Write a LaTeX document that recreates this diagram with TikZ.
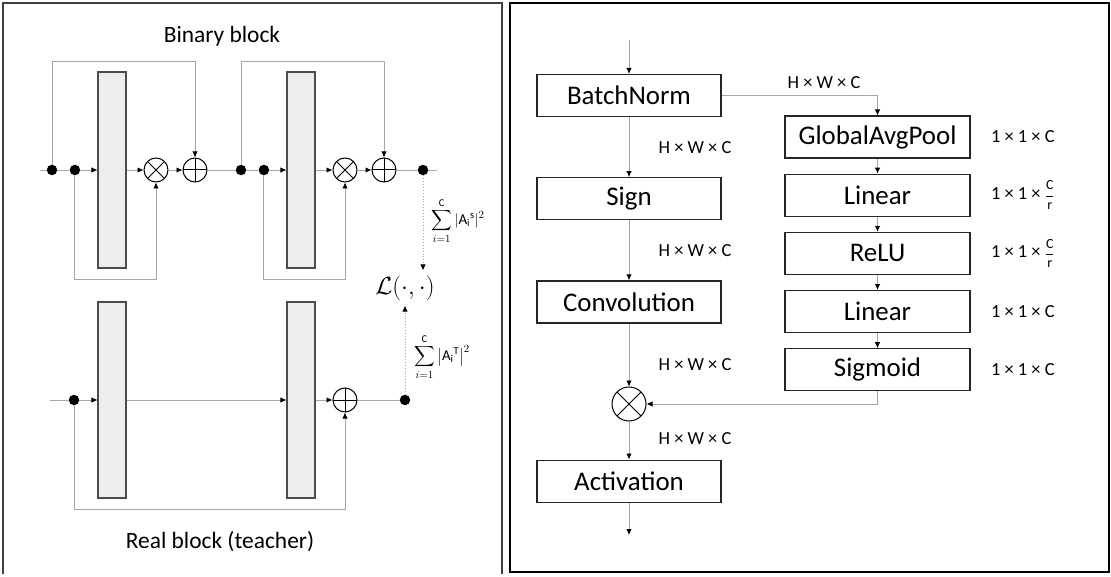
\documentclass[tikz,border=0pt]{standalone}
\usepackage{amsmath}
\usepackage{fontspec}
\setmainfont{Carlito}
\usepackage{tikz}
\usetikzlibrary{calc, positioning, arrows.meta}

\newcommand{\chanfrac}{{\fontsize{14}{14}\selectfont$\dfrac{\text{C}}{\text{r}}$}}

\tikzset{
  conn/.style={draw=gray!70, line width=0.9bp},
  arr/.style={-{Latex[length=6bp,width=5.5bp,black]}},
  dot/.style={circle, fill=black, inner sep=0pt, minimum size=10.5bp},
  layer/.style={draw=black!70, line width=1.1bp, fill=black!7, inner sep=0pt, minimum width=28bp, minimum height=196bp},
  mulop/.style={circle, draw, line width=1bp, inner sep=0pt, minimum size=24bp,
    path picture={\draw (path picture bounding box.north west) -- (path picture bounding box.south east)
      (path picture bounding box.north east) -- (path picture bounding box.south west);}},
  addop/.style={circle, draw, line width=1bp, inner sep=0pt, minimum size=24bp,
    path picture={\draw (path picture bounding box.north) -- (path picture bounding box.south)
      (path picture bounding box.east) -- (path picture bounding box.west);}},
  box/.style={draw=black!85, line width=1.2bp, minimum width=184bp, minimum height=42bp, inner sep=0pt, font=\fontsize{27}{32}\selectfont},
  dimlab/.style={font=\fontsize{18.5}{22}\selectfont},
  sumlab/.style={font=\fontsize{15}{18}\selectfont, inner sep=1bp},
  title/.style={font=\fontsize{23.5}{28}\selectfont}
}

\begin{document}
\begin{tikzpicture}[x=1bp, y=-1bp, node distance=15bp]
    \useasboundingbox (0,0) rectangle (1111,577);
    % panel frames
    \draw[black!75, line width=1.1bp] (3,574) -- (3,3) -- (502,3) -- (502,574);
    \draw[black, line width=1.1bp] (510,3) rectangle (1109,572);

    % Binary block (student)
    \node[title] (btitle) at (222,36) {Binary block};
    \coordinate (bin) at (40,170);
    \coordinate (btop) at (0,61);
    \coordinate (bbot) at (0,279);
    \node[dot] (b1s) at (52,170) {};
    \node[dot, right=12bp of b1s] (b1a) {};
    \node[layer] (b1l) at (112,170) {};
    \node[mulop] (b1m) at (156,170) {};
    \node[addop] (b1p) at (195,170) {};
    \node[dot] (b2s) at (241,170) {};
    \node[dot, right=12bp of b2s] (b2a) {};
    \node[layer] (b2l) at (301,170) {};
    \node[mulop] (b2m) at (345,170) {};
    \node[addop] (b2p) at (384,170) {};
    \node[dot] (bout) at (423,170) {};
    \coordinate (bend) at (437,170);
    \draw[conn] (bin) -- (b1s) -- (b1a);
    \draw[conn, arr] (b1a) -- (b1l);
    \draw[conn, arr] (b1l) -- (b1m);
    \draw[conn, arr] (b1m) -- (b1p);
    \draw[conn] (b1p) -- (b2s) -- (b2a);
    \draw[conn, arr] (b2a) -- (b2l);
    \draw[conn, arr] (b2l) -- (b2m);
    \draw[conn, arr] (b2m) -- (b2p);
    \draw[conn] (b2p) -- (bout) -- (bend);
    % skip paths
    \draw[conn, arr] (b1s) -- (b1s |- btop) -| (b1p);
    \draw[conn, arr] (b1a) -- (b1a |- bbot) -| (b1m);
    \draw[conn, arr] (b2s) -- (b2s |- btop) -| (b2p);
    \draw[conn, arr] (b2a) -- (b2a |- bbot) -| (b2m);

    % Real block (teacher)
    \coordinate (rin) at (50,400);
    \coordinate (rbot) at (0,509);
    \node[dot] (r1a) at (74,400) {};
    \node[layer] (r1l) at (112,400) {};
    \node[layer] (r2l) at (301,400) {};
    \node[addop] (r2p) at (345,400) {};
    \node[dot] (rout) at (405,400) {};
    \draw[conn] (rin) -- (r1a);
    \draw[conn, arr] (r1a) -- (r1l);
    \draw[conn, arr] (r1l) -- (r2l);
    \draw[conn, arr] (r2l) -- (r2p);
    \draw[conn] (r2p) -- (rout);
    \draw[conn, arr] (r1a) -- (r1a |- rbot) -| (r2p);
    \node[title] (rtitle) at (220,542) {Real block (teacher)};

    % loss between the two
    \node[inner xsep=1bp, inner ysep=5bp, font=\fontsize{26}{30}\selectfont] (loss) at (405,288) {$\mathcal{L}(\cdot,\cdot)$};
    \draw[conn, dotted, arr] (bout) -- (bout |- loss.north);
    \draw[conn, dotted, arr] (rout) -- (rout |- loss.south);
    \node[sumlab] (sums) at (458,221) {$\displaystyle\sum_{i=1}^{\mathrm{C}}|\mathrm{A}_{\mathrm{i}}{}^{\mathrm{s}}|^{2}$};
    \node[sumlab] (sumt) at (442,357) {$\displaystyle\sum_{i=1}^{\mathrm{C}}\left|\mathrm{A}_{\mathrm{i}}{}^{\mathrm{T}}\right|^{2}$};

    % Right panel: main path
    \coordinate (sin) at (629,40);
    \node[box] (bn) at (629,95.5) {BatchNorm};
    \node[box, below=60bp of bn] (sg) {Sign};
    \node[box, below=60bp of sg] (cv) {Convolution};
    \node[mulop, minimum size=34bp] (mul) at (cv |- 0,404) {};
    \node[box, below=38bp of mul] (act) {Activation};
    \coordinate (sout) at (629,535);
    \draw[conn, arr] (sin) -- (bn);
    \draw[conn, arr] (bn) -- (sg);
    \draw[conn, arr] (sg) -- (cv);
    \draw[conn, arr] (cv) -- (mul);
    \draw[conn, arr] (mul) -- (act);
    \draw[conn, arr] (act) -- (sout);
    \node[dimlab] at ($(bn.south)!0.5!(sg.north)+(66,0)$) {H × W × C};
    \node[dimlab] at ($(sg.south)!0.5!(cv.north)+(66,0)$) {H × W × C};
    \node[dimlab] at (695,365) {H × W × C};
    \node[dimlab] at (695,439) {H × W × C};

    % squeeze-excitation branch
    \node[box, minimum width=185bp] (gap) at (877.5,137) {GlobalAvgPool};
    \node[box, minimum width=185bp, below=of gap] (lin1) {Linear};
    \node[box, minimum width=185bp, below=of lin1] (relu) {ReLU};
    \node[box, minimum width=185bp, below=of relu] (lin2) {Linear};
    \node[box, minimum width=185bp, below=of lin2] (sig) {Sigmoid};
    \draw[conn, arr] (bn) -| (gap);
    \draw[conn, arr] (gap) -- (lin1);
    \draw[conn, arr] (lin1) -- (relu);
    \draw[conn, arr] (relu) -- (lin2);
    \draw[conn, arr] (lin2) -- (sig);
    \draw[conn, arr] (sig) |- (mul);
    \node[dimlab] at (824,83) {H × W × C};
    \node[dimlab, right=17bp of gap] {1 × 1 × C};
    \node[dimlab, right=17bp of lin1] {1 × 1 × \chanfrac};
    \node[dimlab, right=17bp of relu] {1 × 1 × \chanfrac};
    \node[dimlab, right=17bp of lin2] {1 × 1 × C};
    \node[dimlab, right=17bp of sig] {1 × 1 × C};
\end{tikzpicture}
\end{document}
